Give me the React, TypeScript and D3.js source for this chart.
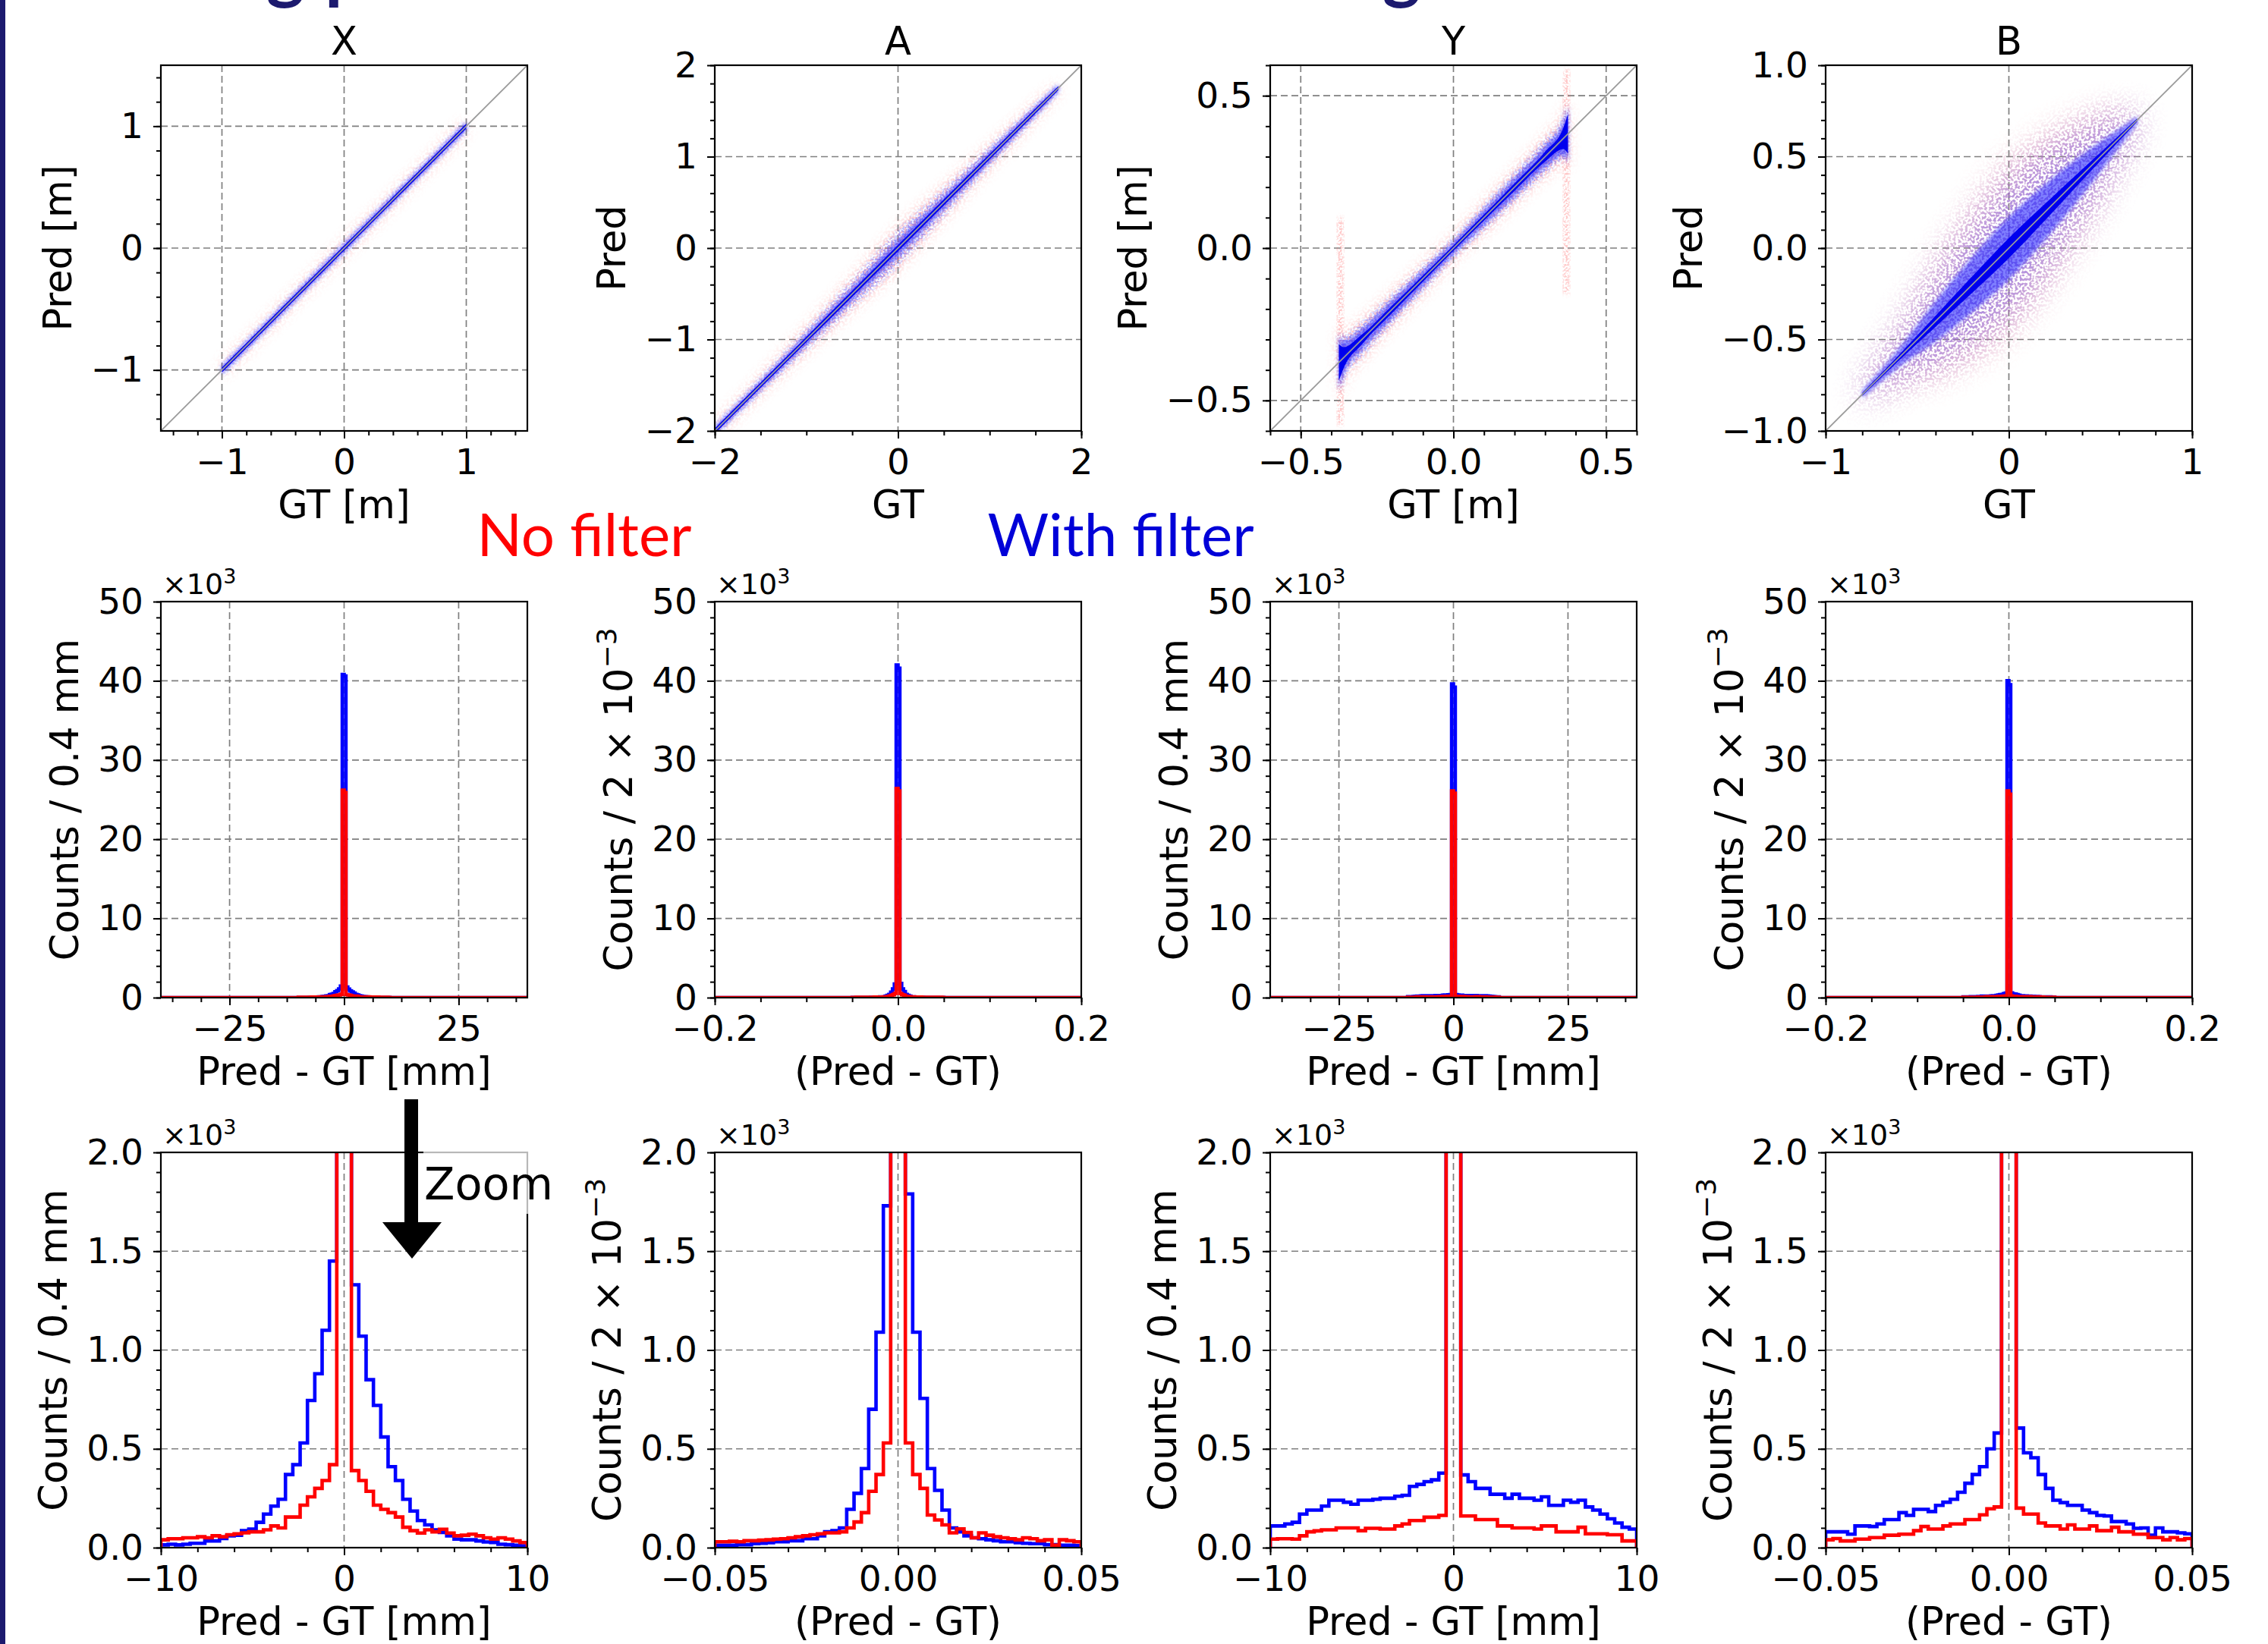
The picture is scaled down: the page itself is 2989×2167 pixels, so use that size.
import React, { useEffect, useRef } from 'react';
import * as d3 from 'd3';

const W = 2989;
const H = 2167;

// grid of axes (px)
const colLeft = [212, 942, 1674, 2406];
const axW = 483;
const rowTop = [86, 793, 1519];
const rowH = [482, 522, 521];

const titles = ['X', 'A', 'Y', 'B'];
const scatterXLabel = ['GT [m]', 'GT', 'GT [m]', 'GT'];
const scatterYLabel = ['Pred [m]', 'Pred', 'Pred [m]', 'Pred'];
const histXLabel = ['Pred - GT [mm]', '(Pred - GT)', 'Pred - GT [mm]', '(Pred - GT)'];
const histUnitMm = [true, false, true, false];

const scatterDom = [[-1.5, 1.5], [-2, 2], [-0.6, 0.6], [-1, 1]];
const scatterTicksX = [[-1, 0, 1], [-2, 0, 2], [-0.5, 0, 0.5], [-1, 0, 1]];
const scatterTicksY = [[-1, 0, 1], [-2, -1, 0, 1, 2], [-0.5, 0, 0.5], [-1, -0.5, 0, 0.5, 1]];
const scatterMinorX = [0.2, 0.5, 0.1, 0.2];
const scatterMinorY = [0.2, 0.2, 0.1, 0.1];
const scatterFmtX = ['d', 'd', '.1f', 'd'];
const scatterFmtY = ['d', 'd', '.1f', '.1f'];

const histDomWide = [[-40, 40], [-0.2, 0.2], [-40, 40], [-0.2, 0.2]];
const histTicksWide = [[-25, 0, 25], [-0.2, 0, 0.2], [-25, 0, 25], [-0.2, 0, 0.2]];
const histMinorWide = [6.25, 0.05, 6.25, 0.05];
const histFmtWide = ['d', '.1f', 'd', '.1f'];
const histDomZoom = [[-10, 10], [-0.05, 0.05], [-10, 10], [-0.05, 0.05]];
const histTicksZoom = [[-10, 0, 10], [-0.05, 0, 0.05], [-10, 0, 10], [-0.05, 0, 0.05]];
const histMinorZoom = [2, 0.01, 2, 0.01];
const histFmtZoom = ['d', '.2f', 'd', '.2f'];
const countTicksWide = [0, 10000, 20000, 30000, 40000, 50000];
const countTicksZoom = [0, 500, 1000, 1500, 2000];
const binStart = [-10, -0.05, -10, -0.05];
const binWidth = [0.4, 0.002, 0.4, 0.002];

// residual histograms (counts per bin), 50 bins covering the zoom window
const blueX = [14, 17, 14, 17, 22, 22, 34, 34, 46, 60, 63, 86, 94, 128, 170, 210, 245, 370, 420, 530, 745, 880, 1100, 1450,
  40800, 40600, 1330, 1070, 850, 720, 560, 410, 340, 245, 185, 137, 115, 90, 77, 60, 43, 40, 40, 34, 29, 26, 17, 15, 12, 9];
const redX = [40, 45, 45, 50, 50, 55, 50, 60, 55, 65, 70, 75, 80, 80, 90, 110, 100, 155, 155, 215, 257, 300, 340, 420,
  26200, 25900, 390, 340, 285, 215, 194, 177, 155, 103, 86, 74, 90, 80, 93, 74, 60, 63, 68, 60, 50, 43, 50, 43, 34, 26];
const blueA = [12, 12, 12, 15, 15, 20, 22, 25, 30, 30, 35, 35, 45, 45, 60, 80, 86, 100, 194, 275, 400, 700, 1090, 1730,
  42000, 41600, 1790, 1090, 755, 400, 290, 190, 100, 80, 60, 50, 45, 40, 35, 30, 30, 25, 22, 20, 20, 15, 15, 12, 12, 10];
const redA = [30, 30, 32, 30, 35, 35, 38, 40, 43, 45, 50, 55, 60, 65, 70, 75, 75, 80, 100, 130, 177, 285, 370, 530,
  26400, 26100, 530, 370, 300, 165, 140, 115, 75, 95, 77, 50, 75, 63, 55, 50, 45, 40, 50, 45, 35, 40, 12, 40, 35, 30];
const blueY = [110, 110, 120, 128, 170, 190, 190, 210, 240, 240, 230, 220, 240, 240, 245, 250, 250, 260, 265, 310, 320, 334, 343, 377,
  39600, 39200, 368, 334, 300, 300, 270, 270, 250, 270, 250, 250, 240, 257, 214, 214, 240, 230, 240, 206, 190, 170, 146, 125, 103, 94];
const redY = [43, 45, 45, 43, 60, 80, 85, 90, 90, 100, 100, 100, 86, 98, 98, 94, 94, 110, 120, 137, 137, 154, 154, 163,
  26100, 25800, 160, 160, 142, 142, 142, 110, 110, 100, 100, 100, 94, 110, 110, 80, 80, 80, 103, 70, 70, 70, 65, 65, 34, 34];
const blueB = [80, 80, 80, 68, 110, 110, 107, 120, 142, 142, 177, 163, 194, 194, 183, 214, 230, 245, 280, 326, 370, 410, 500, 580,
  40000, 39500, 605, 480, 455, 370, 300, 240, 228, 214, 214, 190, 177, 163, 160, 132, 132, 120, 98, 100, 63, 100, 80, 80, 75, 70];
const redB = [40, 46, 34, 34, 43, 43, 51, 51, 63, 63, 68, 68, 86, 107, 94, 94, 110, 120, 120, 142, 142, 166, 197, 206,
  26100, 25700, 200, 170, 170, 125, 110, 110, 94, 115, 94, 94, 110, 86, 86, 103, 80, 80, 68, 68, 51, 51, 40, 51, 40, 46];
const blueHists = [blueX, blueA, blueY, blueB];
const redHists = [redX, redA, redY, redB];

// scatter clouds: GT grid and vertical half widths of the point bands
const xBandGt = [-1.0, -0.5, 0.0, 0.5, 1.0];
const xBandCore = [0.02, 0.02, 0.02, 0.02, 0.02];
const xBandMid = [0.03, 0.03, 0.032, 0.03, 0.03];
const xBandHalo = [0.05, 0.05, 0.055, 0.05, 0.05];

const aBandGt = [-2.0, -1.5, -1.0, -0.5, 0.0, 0.5, 1.0, 1.5, 1.75];
const aBandCore = [0.028, 0.028, 0.03, 0.033, 0.036, 0.033, 0.03, 0.028, 0.022];
const aBandMid = [0.04, 0.045, 0.055, 0.07, 0.09, 0.07, 0.055, 0.045, 0.035];
const aBandHalo = [0.07, 0.09, 0.13, 0.17, 0.22, 0.17, 0.12, 0.08, 0.05];

const yBandGt = [-0.375, -0.36, -0.3, -0.2, -0.1, 0.0, 0.1, 0.2, 0.3, 0.36, 0.375];
const yBandCore = [0.06, 0.035, 0.016, 0.012, 0.01, 0.009, 0.01, 0.012, 0.016, 0.035, 0.065];
const yBandMid = [0.085, 0.055, 0.035, 0.03, 0.025, 0.02, 0.025, 0.03, 0.035, 0.055, 0.085];
const yBandHalo = [0.12, 0.085, 0.065, 0.055, 0.048, 0.038, 0.048, 0.055, 0.065, 0.085, 0.12];

const bBandGt = [-0.8, -0.6, -0.4, -0.2, 0.0, 0.2, 0.4, 0.6, 0.7];
const bBandCore = [0.008, 0.015, 0.03, 0.045, 0.055, 0.045, 0.03, 0.015, 0.008];
const bBandMid = [0.02, 0.05, 0.11, 0.15, 0.17, 0.15, 0.11, 0.05, 0.02];
const bBandHalo = [0.05, 0.15, 0.3, 0.4, 0.45, 0.4, 0.3, 0.15, 0.05];

const bandGt = [xBandGt, aBandGt, yBandGt, bBandGt];
const bandCore = [xBandCore, aBandCore, yBandCore, bBandCore];
const bandMid = [xBandMid, aBandMid, yBandMid, bBandMid];
const bandHalo = [xBandHalo, aBandHalo, yBandHalo, bBandHalo];

// no-filter outlier streaks at the edges of Y
const yStreakGt = [-0.37, 0.37];
const yStreakLo = [-0.58, -0.15];
const yStreakHi = [0.1, 0.585];

const FONT = "'DejaVu Sans', 'Liberation Sans', sans-serif";
const BLUE = '#0000ff';
const RED = '#ff0000';
const GRID = '#7f7f7f';
const FS = 47; // tick labels
const LFS = 51; // axis labels, titles

function stepTicks(dom: number[], step: number) {
  const a = Math.ceil(dom[0] / step - 1e-9);
  const b = Math.floor(dom[1] / step + 1e-9);
  return d3.range(a, b + 1).map((i) => +(i * step).toFixed(6));
}

function makeAxes(svg: any, defs: any, key: string, left: number, top: number, w: number, h: number,
  xDom: number[], yDom: number[], xTicks: number[], yTicks: number[]) {
  const g = svg.append('g').attr('transform', `translate(${left},${top})`);
  const x = d3.scaleLinear().domain(xDom).range([0, w]);
  const y = d3.scaleLinear().domain(yDom).range([h, 0]);
  defs.append('clipPath').attr('id', key).append('rect').attr('width', w).attr('height', h);

  // dashed grid
  const grid = g.append('g');
  grid.append('g').selectAll('line').data(xTicks).join('line')
    .attr('x1', (d: number) => x(d)).attr('x2', (d: number) => x(d))
    .attr('y1', 0).attr('y2', h);
  grid.append('g').selectAll('line').data(yTicks).join('line')
    .attr('x1', 0).attr('x2', w)
    .attr('y1', (d: number) => y(d)).attr('y2', (d: number) => y(d));
  grid.selectAll('line')
    .attr('stroke', GRID).attr('stroke-width', 1.7).attr('stroke-dasharray', '9,5');

  const plot = g.append('g').attr('clip-path', `url(#${key})`);
  return { g, x, y, plot };
}

function styleAxis(a: any) {
  a.select('.domain').remove();
  a.selectAll('line').attr('stroke', '#000').attr('stroke-width', 2);
  a.selectAll('text').attr('font-family', FONT).attr('font-size', FS).attr('fill', '#000');
}

function finishAxes(g: any, x: any, y: any, w: number, h: number, o: any) {
  g.append('g').attr('transform', `translate(0,${h})`)
    .call(d3.axisBottom(x).tickValues(o.xMinor).tickFormat(() => '').tickSize(6).tickSizeOuter(0))
    .call(styleAxis);
  g.append('g').attr('transform', `translate(0,${h})`)
    .call(d3.axisBottom(x).tickValues(o.xTicks).tickFormat(o.xFmt).tickSize(10).tickPadding(14).tickSizeOuter(0))
    .call(styleAxis);
  g.append('g')
    .call(d3.axisLeft(y).tickValues(o.yMinor).tickFormat(() => '').tickSize(6).tickSizeOuter(0))
    .call(styleAxis);
  const ya = g.append('g')
    .call(d3.axisLeft(y).tickValues(o.yTicks).tickFormat(o.yFmt).tickSize(10).tickPadding(13).tickSizeOuter(0))
    .call(styleAxis);

  g.append('rect').attr('width', w).attr('height', h)
    .attr('fill', 'none').attr('stroke', '#000').attr('stroke-width', 2.2);

  g.append('text').attr('x', w / 2).attr('y', h + 115)
    .attr('text-anchor', 'middle').attr('font-family', FONT).attr('font-size', LFS)
    .text(o.xLabel);

  const bb = ya.node().getBBox();
  const yl = g.append('text')
    .attr('transform', `translate(${bb.x - 26},${h / 2}) rotate(-90)`)
    .attr('text-anchor', 'middle').attr('font-family', FONT).attr('font-size', LFS);
  o.yLabel.forEach((s: any) => {
    const t = yl.append('tspan').text(s.t);
    if (s.sup) t.attr('font-size', 36).attr('dy', -21);
  });
}

export default function App() {
  const ref = useRef<SVGSVGElement>(null);

  useEffect(() => {
    document.body.style.margin = '0';
    const svg = d3.select(ref.current);
    svg.selectAll('*').remove();
    svg.append('rect').attr('width', W).attr('height', H).attr('fill', '#fff');
    const defs = svg.append('defs');
    [['blurMid', 2.5], ['blurCore', 0.7]].forEach(([id, s]) => {
      defs.append('filter').attr('id', id)
        .attr('x', '-30%').attr('y', '-30%').attr('width', '160%').attr('height', '160%')
        .append('feGaussianBlur').attr('stdDeviation', s);
    });
    // grainy blur, so the sparse halo reads as scattered points
    [['speckle', 9, 0.32, 4], ['speckle2', 3, 0.4, 11], ['speckleWide', 20, 0.32, 5]].forEach(([id, sd, freq, seed]) => {
      const f = defs.append('filter').attr('id', id)
        .attr('x', '-30%').attr('y', '-30%').attr('width', '160%').attr('height', '160%')
        .attr('color-interpolation-filters', 'sRGB');
      f.append('feTurbulence').attr('type', 'fractalNoise').attr('baseFrequency', freq)
        .attr('numOctaves', 1).attr('seed', seed).attr('result', 'noise');
      f.append('feColorMatrix').attr('in', 'noise').attr('type', 'matrix')
        .attr('values', '0 0 0 0 0  0 0 0 0 0  0 0 0 0 0  7 0 0 0 -3.1').attr('result', 'mask');
      f.append('feGaussianBlur').attr('in', 'SourceGraphic').attr('stdDeviation', sd).attr('result', 'blur');
      f.append('feComposite').attr('in', 'blur').attr('in2', 'mask').attr('operator', 'in');
    });

    // slide decoration: title descenders cut at the top, navy edge bar
    svg.append('rect').attr('x', 0).attr('y', 0).attr('width', 7).attr('height', H).attr('fill', '#1c1a6e');
    [['g', 376], ['p', 428], ['g', 1847]].forEach(([t, xx]) => {
      svg.append('text').attr('x', xx).attr('y', -6).attr('text-anchor', t === 'p' ? 'start' : 'middle')
        .attr('font-family', 'Lato, sans-serif').attr('font-weight', 700).attr('font-size', 96)
        .attr('fill', '#1c1a6e').text(t as string);
    });

    // ---- row 1: Pred vs GT scatter clouds ----
    titles.forEach((title, c) => {
      const w = axW;
      const h = rowH[0];
      const dom = scatterDom[c];
      const { g, x, y, plot } = makeAxes(svg, defs, `clip-s-${c}`, colLeft[c], rowTop[0], w, h,
        dom, dom, scatterTicksX[c], scatterTicksY[c]);

      const gt = bandGt[c];
      const idx = gt.map((_, i) => i);
      const band = (half: number[]) => d3.area<number>()
        .x((i) => x(gt[i]))
        .y0((i) => y(gt[i] - half[i]))
        .y1((i) => y(gt[i] + half[i]))
        .curve(d3.curveMonotoneX)(idx);

      if (c === 2) {
        plot.selectAll('rect.streak').data(yStreakGt).join('rect')
          .attr('class', 'streak')
          .attr('x', (d: number) => x(d - 0.008)).attr('width', (d: number) => x(d + 0.008) - x(d - 0.008))
          .attr('y', (_: number, i: number) => y(yStreakHi[i]))
          .attr('height', (_: number, i: number) => y(yStreakLo[i]) - y(yStreakHi[i]))
          .attr('fill', '#ff6060').attr('opacity', 0.5).attr('filter', 'url(#speckle2)');
      }
      const haloFilter = c === 3 ? 'url(#speckleWide)' : 'url(#speckle)';
      plot.append('path').attr('d', band(bandHalo[c])).attr('fill', '#ff6a6a').attr('opacity', 0.45)
        .attr('filter', haloFilter);
      plot.append('path').attr('d', band(bandHalo[c].map((v) => v * 0.85))).attr('fill', '#6a6aff').attr('opacity', 0.55)
        .attr('filter', c === 3 ? haloFilter : 'url(#speckle2)');
      plot.append('path').attr('d', band(bandMid[c])).attr('fill', '#2a2aff').attr('opacity', 0.6)
        .attr('filter', 'url(#blurMid)');
      plot.append('path').attr('d', band(bandCore[c])).attr('fill', '#0000ee').attr('opacity', 1)
        .attr('filter', 'url(#blurCore)');

      plot.append('line')
        .attr('x1', x(dom[0])).attr('y1', y(dom[0]))
        .attr('x2', x(dom[1])).attr('y2', y(dom[1]))
        .attr('stroke', '#9a9a9a').attr('stroke-width', 1.8);

      finishAxes(g, x, y, w, h, {
        xTicks: scatterTicksX[c], yTicks: scatterTicksY[c],
        xMinor: stepTicks(dom, scatterMinorX[c]), yMinor: stepTicks(dom, scatterMinorY[c]),
        xFmt: d3.format(scatterFmtX[c]), yFmt: d3.format(scatterFmtY[c]),
        xLabel: scatterXLabel[c], yLabel: [{ t: scatterYLabel[c] }],
      });

      g.append('text').attr('x', w / 2).attr('y', -14).attr('text-anchor', 'middle')
        .attr('font-family', FONT).attr('font-size', LFS).text(title);
    });

    // ---- rows 2 and 3: residual histograms (full range and zoom) ----
    [0, 1].forEach((r) => {
      titles.forEach((_, c) => {
        const w = axW;
        const h = rowH[r + 1];
        const xDom = r === 0 ? histDomWide[c] : histDomZoom[c];
        const xTicks = r === 0 ? histTicksWide[c] : histTicksZoom[c];
        const yTicks = r === 0 ? countTicksWide : countTicksZoom;
        const yDom = [0, yTicks[yTicks.length - 1]];
        const { g, x, y, plot } = makeAxes(svg, defs, `clip-h-${r}-${c}`, colLeft[c], rowTop[r + 1], w, h,
          xDom, yDom, xTicks, yTicks);

        const step = d3.line<number[]>()
          .x((d) => x(d[0])).y((d) => y(d[1]))
          .curve(d3.curveStepAfter);
        const pts = (vals: number[]) => {
          const p: number[][] = [[xDom[0], 0]];
          vals.forEach((v, i) => p.push([binStart[c] + i * binWidth[c], v]));
          p.push([binStart[c] + vals.length * binWidth[c], 0]);
          p.push([xDom[1], 0]);
          return p;
        };
        [[blueHists[c], BLUE], [redHists[c], RED]].forEach(([vals, col]) => {
          plot.append('path').attr('d', step(pts(vals as number[])))
            .attr('fill', 'none').attr('stroke', col as string).attr('stroke-width', 4.6)
            .attr('stroke-linejoin', 'miter');
        });

        const yl = histUnitMm[c]
          ? [{ t: 'Counts / 0.4 mm' }]
          : [{ t: 'Counts / 2 × 10' }, { t: '−3', sup: true }];
        finishAxes(g, x, y, w, h, {
          xTicks, yTicks,
          xMinor: stepTicks(xDom, r === 0 ? histMinorWide[c] : histMinorZoom[c]),
          yMinor: stepTicks(yDom, r === 0 ? 2000 : 100),
          xFmt: d3.format(r === 0 ? histFmtWide[c] : histFmtZoom[c]),
          yFmt: (d: number) => d3.format(r === 0 ? 'd' : '.1f')(d / 1000),
          xLabel: histXLabel[c], yLabel: yl,
        });

        const off = g.append('text').attr('x', 2).attr('y', -10)
          .attr('font-family', FONT).attr('font-size', 38);
        off.append('tspan').text('×10');
        off.append('tspan').attr('font-size', 27).attr('dy', -14).text('3');
      });
    });

    // ---- annotations ----
    svg.append('text').attr('x', 770).attr('y', 733).attr('text-anchor', 'middle')
      .attr('font-family', 'Lato, sans-serif').attr('font-size', 78).attr('fill', RED).text('No filter');
    svg.append('text').attr('x', 1477).attr('y', 733).attr('text-anchor', 'middle')
      .attr('font-family', 'Lato, sans-serif').attr('font-size', 78).attr('fill', '#0000d8').text('With filter');

    svg.append('rect').attr('x', 558).attr('y', 1500).attr('width', 175).attr('height', 100)
      .attr('fill', '#fff').attr('opacity', 0.72);
    svg.append('text').attr('x', 559).attr('y', 1581)
      .attr('font-family', FONT).attr('font-size', 59).attr('fill', '#000').text('Zoom');
    svg.append('rect').attr('x', 533).attr('y', 1449).attr('width', 18).attr('height', 165).attr('fill', '#000');
    svg.append('path').attr('d', 'M504,1611 L582,1611 L543,1659 Z').attr('fill', '#000');
  }, []);

  return (
    <svg ref={ref} width={W} height={H}
      style={{ position: 'absolute', left: 0, top: 0, display: 'block' }} />
  );
}
